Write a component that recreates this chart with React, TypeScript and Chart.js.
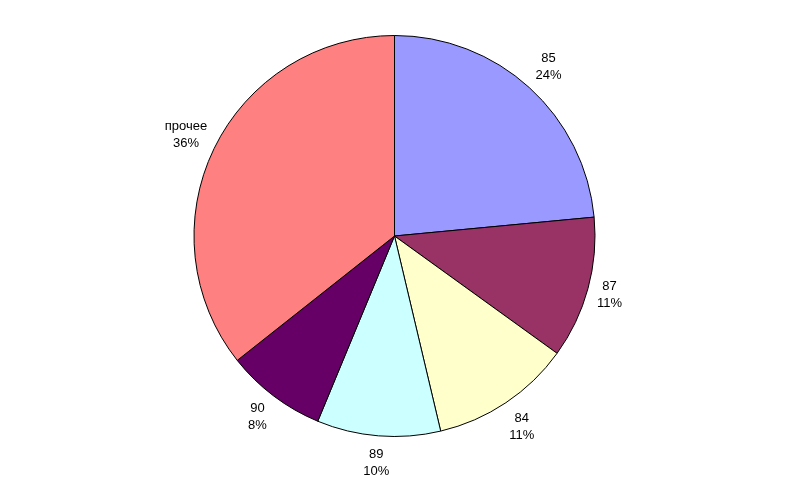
import React, { useEffect, useRef } from "react";
import { Chart, registerables } from "chart.js";

Chart.register(...registerables);

const categories = ["85", "87", "84", "89", "90", "прочее"];
const shares = [23.5, 11.45, 11.35, 9.95, 8.1, 35.65];
const colors = ["#9999FF", "#993366", "#FFFFCC", "#CCFFFF", "#660066", "#FF8080"];

const labelPlugin = {
  id: "outerLabels",
  afterDatasetsDraw(chart: any) {
    const ctx = chart.ctx;
    const meta = chart.getDatasetMeta(0);
    const data = chart.data.datasets[0].data as number[];
    const total = data.reduce((a, b) => a + b, 0);
    ctx.save();
    ctx.font = "13px 'Liberation Sans', Arial, sans-serif";
    ctx.fillStyle = "#000";
    ctx.textAlign = "center";
    ctx.textBaseline = "middle";
    const lineH = 17;
    meta.data.forEach((arc: any, i: number) => {
      const { x, y, startAngle, endAngle, outerRadius } = arc.getProps(
        ["x", "y", "startAngle", "endAngle", "outerRadius"],
        true
      );
      const mid = (startAngle + endAngle) / 2;
      const l1 = String(chart.data.labels[i]);
      const l2 = Math.round((data[i] / total) * 100) + "%";
      const hw = Math.max(ctx.measureText(l1).width, ctx.measureText(l2).width) / 2;
      const hh = 18;
      const c = Math.cos(mid);
      const s = Math.sin(mid);
      const d = outerRadius + 8 + Math.abs(c) * hw * 0.8 + Math.abs(s) * hh;
      const cx = x + c * d;
      const cy = y + s * d;
      ctx.fillText(l1, cx, cy - lineH / 2);
      ctx.fillText(l2, cx, cy + lineH / 2);
    });
    ctx.restore();
  },
};

export default function App() {
  const ref = useRef<HTMLCanvasElement>(null);
  useEffect(() => {
    if (!ref.current) return;
    const chart = new Chart(ref.current, {
      type: "pie",
      data: {
        labels: categories,
        datasets: [
          {
            data: shares,
            backgroundColor: colors,
            borderColor: "#000000",
            borderWidth: 1,
            hoverOffset: 0,
            offset: 0,
          },
        ],
      },
      options: {
        responsive: false,
        animation: false,
        events: [],
        layout: { padding: { top: 35, bottom: 61, left: 0, right: 11 } },
        plugins: {
          legend: { display: false },
          tooltip: { enabled: false },
        },
      },
      plugins: [labelPlugin],
    });
    return () => chart.destroy();
  }, []);
  return (
    <div style={{ position: "absolute", left: 0, top: 0, width: 800, height: 498, background: "#fff" }}>
      <canvas ref={ref} width={800} height={498} />
    </div>
  );
}
